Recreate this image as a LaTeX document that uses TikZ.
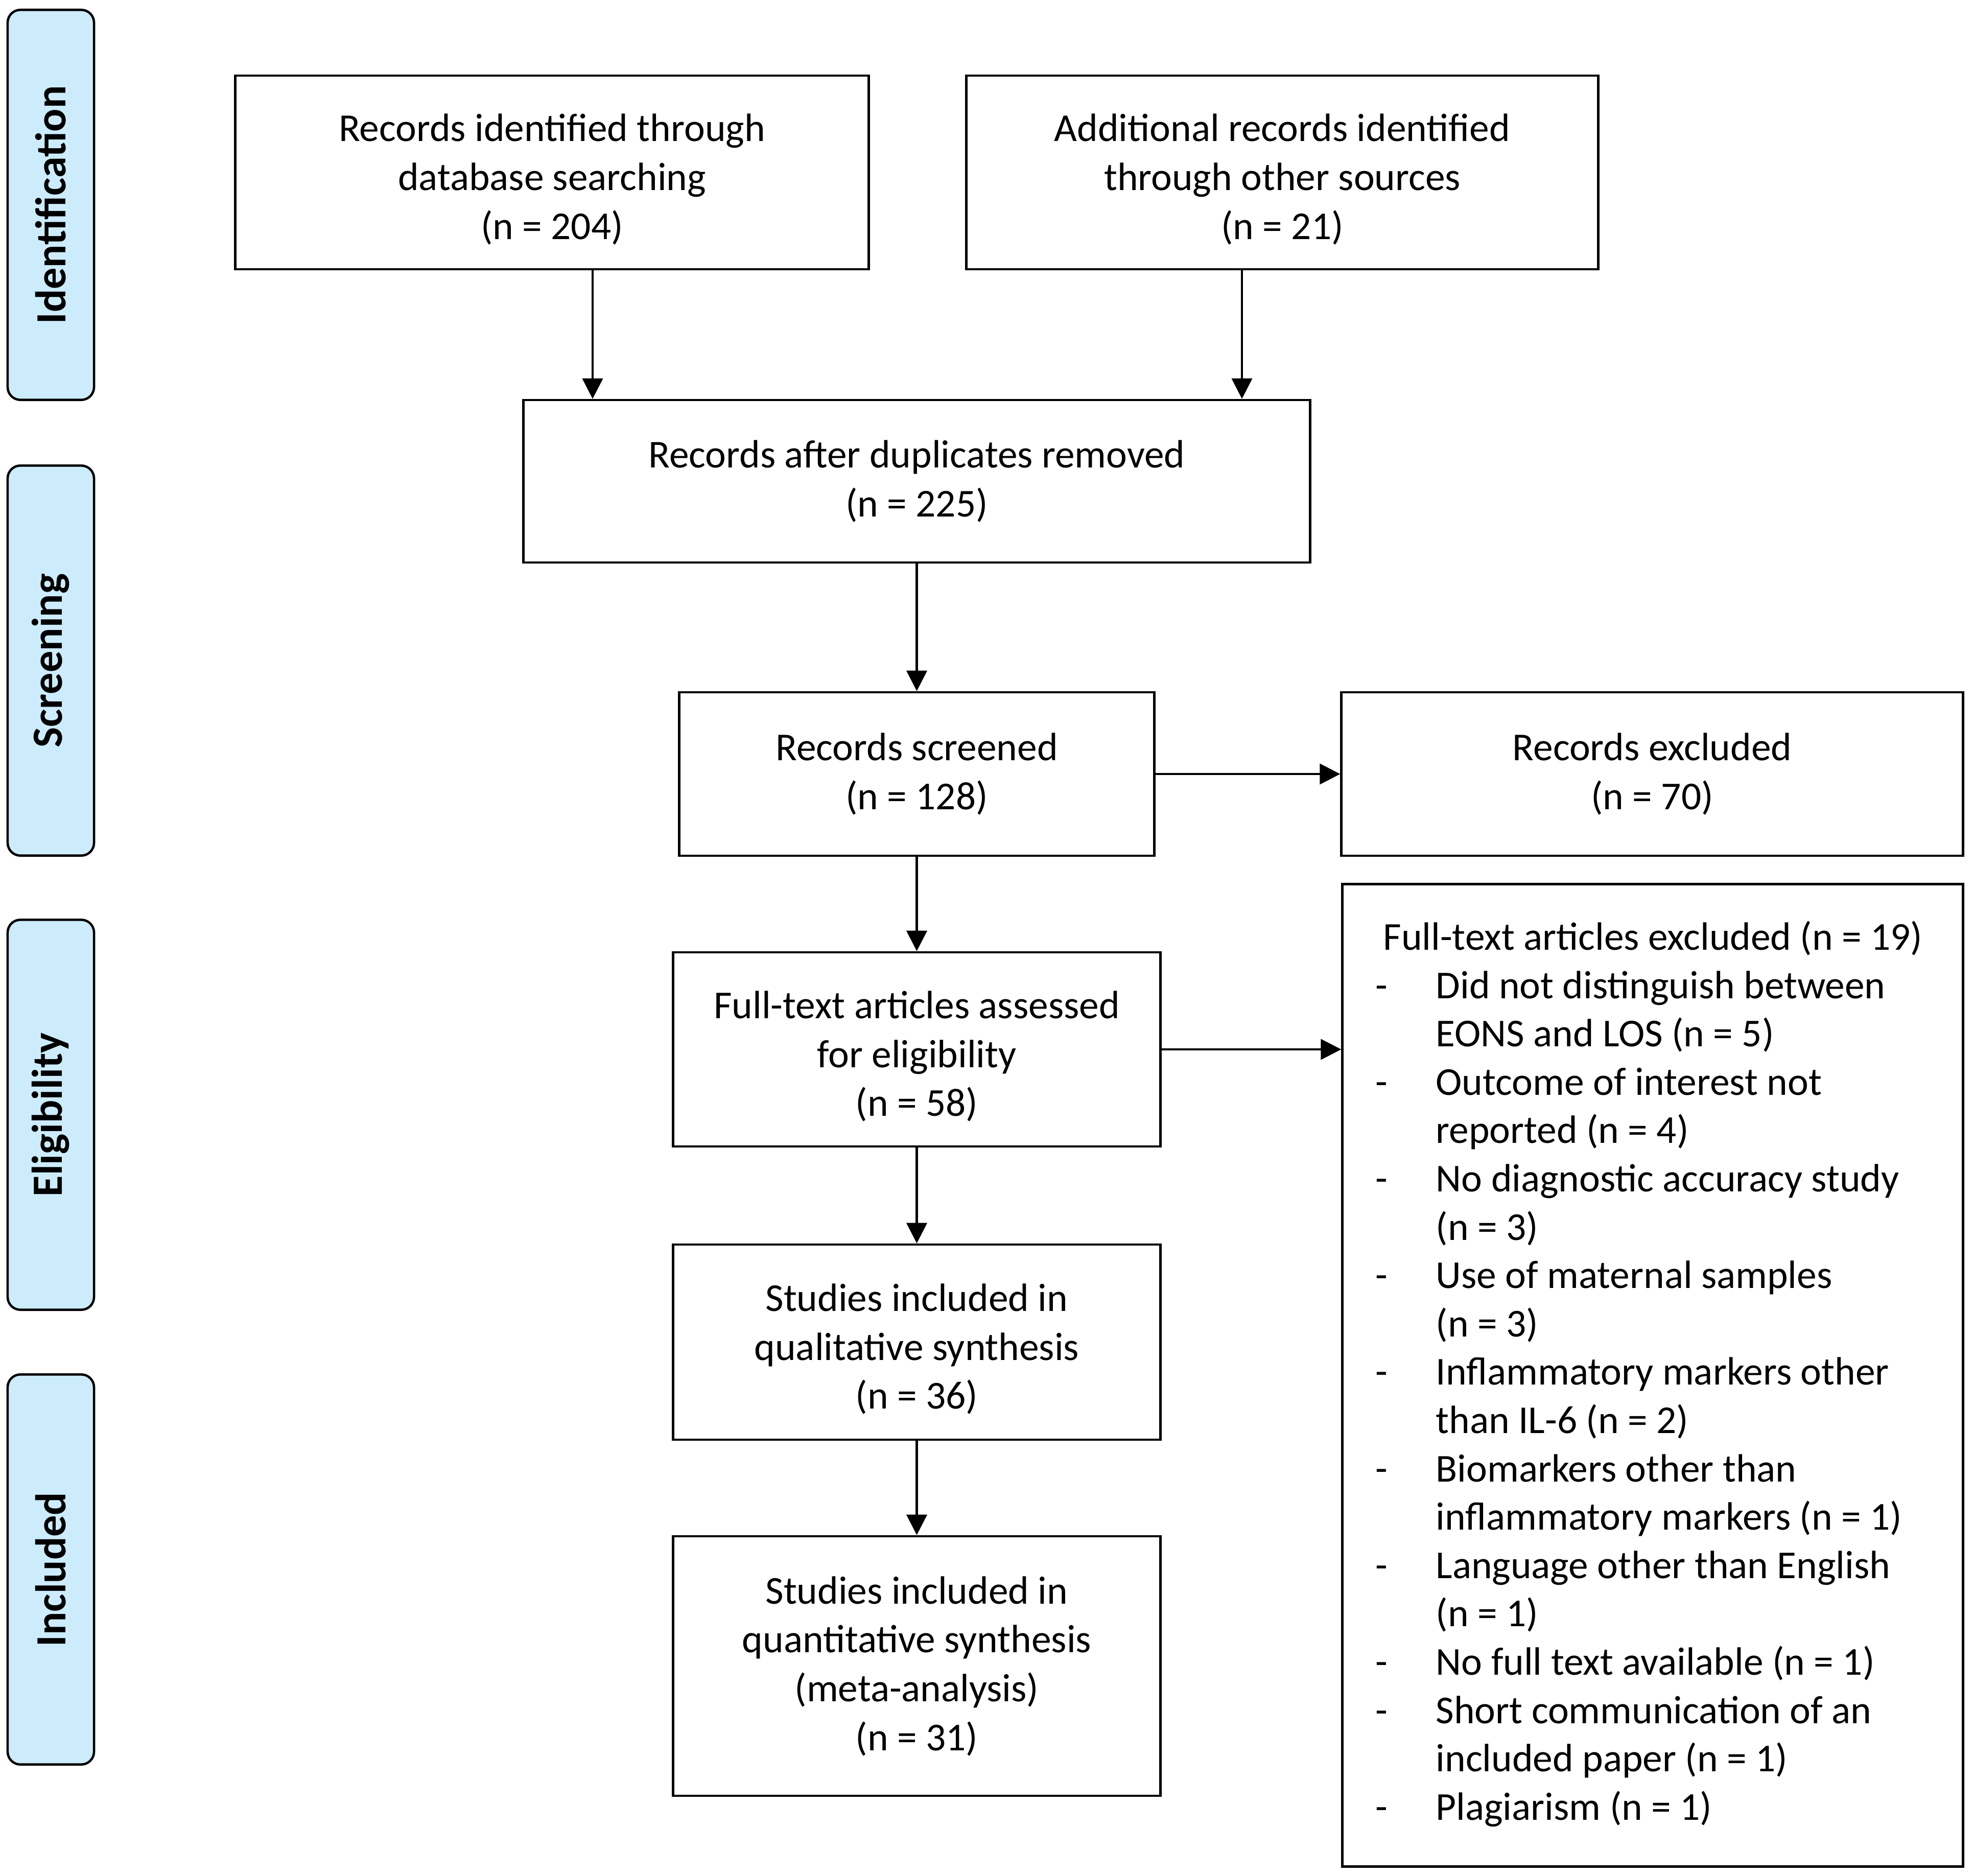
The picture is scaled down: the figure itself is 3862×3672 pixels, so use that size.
\documentclass[tikz,border=0pt]{standalone}
\usepackage{fontspec}
\setmainfont{Carlito}
\usetikzlibrary{arrows.meta}
\definecolor{phase}{RGB}{204,236,252}
\newcommand{\toplift}{\rule{0pt}{23pt}}
\begin{document}
\begin{tikzpicture}[x=0.01cm,y=-0.01cm,
  box/.style={draw, line width=1.3pt, align=center, inner sep=0pt,
    font=\fontsize{22}{27.2}\selectfont},
  phasebox/.style={draw, line width=1.3pt, fill=phase, rounded corners=0.25cm,
    rotate=90, minimum width=7.63cm, minimum height=1.69cm, inner sep=0pt,
    font=\fontsize{24}{28}\selectfont\bfseries},
  arr/.style={line width=1.2pt, -{Triangle[length=0.4cm,width=0.4cm]}}]
\useasboundingbox (0,0) rectangle (3862,3672);

% phase labels
\node[phasebox] (pid) at (99.5,401) {Identification};
\node[phasebox] (psc) at (99.5,1293) {Screening};
\node[phasebox] (pel) at (99.5,2182) {Eligibility};
\node[phasebox] (pin) at (99.5,3072) {Included};

% boxes
\node[box, minimum width=12.39cm, minimum height=3.79cm] (A) at (1080.5,337.5)
  {\toplift Records identified through\\database searching\\(n = 204)};
\node[box, minimum width=12.36cm, minimum height=3.79cm] (B) at (2510,337.5)
  {\toplift Additional records identified\\through other sources\\(n = 21)};
\node[box, minimum width=15.39cm, minimum height=3.18cm] (C) at (1794.5,942)
  {Records after duplicates removed\\(n = 225)};
\node[box, minimum width=9.29cm, minimum height=3.2cm] (D) at (1794.5,1515)
  {Records screened\\(n = 128)};
\node[box, minimum width=12.16cm, minimum height=3.2cm] (E) at (3234,1515)
  {Records excluded\\(n = 70)};
\node[box, minimum width=9.53cm, minimum height=3.8cm] (F) at (1794.5,2054)
  {\toplift Full-text articles assessed\\for eligibility\\(n = 58)};
\node[box, minimum width=12.14cm, minimum height=19.22cm] (G) at (3235,2692) {};
\node[box, minimum width=9.53cm, minimum height=3.82cm] (H) at (1794.5,2627)
  {\toplift Studies included in\\qualitative synthesis\\(n = 36)};
\node[box, minimum width=9.53cm, minimum height=5.08cm] (I) at (1794.5,3261)
  {Studies included in\\quantitative synthesis\\(meta-analysis)\\(n = 31)};

% exclusion list text
\node[anchor=west, inner sep=0pt, align=left, font=\fontsize{22}{26.9}\selectfont] (Gtxt) at (2692,2692) {%
\begin{tabular}{@{}p{1.18cm}@{}l@{}}
\multicolumn{2}{@{\hspace{0.15cm}}l@{}}{Full-text articles excluded (n = 19)}\\
- & Did not distinguish between\\
  & EONS and LOS (n = 5)\\
- & Outcome of interest not\\
  & reported (n = 4)\\
- & No diagnostic accuracy study\\
  & (n = 3)\\
- & Use of maternal samples\\
  & (n = 3)\\
- & Inflammatory markers other\\
  & than IL-6 (n = 2)\\
- & Biomarkers other than\\
  & inflammatory markers (n = 1)\\
- & Language other than English\\
  & (n = 1)\\
- & No full text available (n = 1)\\
- & Short communication of an\\
  & included paper (n = 1)\\
- & Plagiarism (n = 1)
\end{tabular}};

% connectors
\coordinate (xa) at (1160,0);
\coordinate (xb) at (2431,0);
\draw[arr] (A.south -| xa) -- (C.north -| xa);
\draw[arr] (B.south -| xb) -- (C.north -| xb);
\draw[arr] (C) -- (D);
\draw[arr] (D) -- (E);
\draw[arr] (D) -- (F);
\draw[arr] (F.east) -- (F.east -| G.west);
\draw[arr] (F) -- (H);
\draw[arr] (H) -- (I);
\end{tikzpicture}
\end{document}
